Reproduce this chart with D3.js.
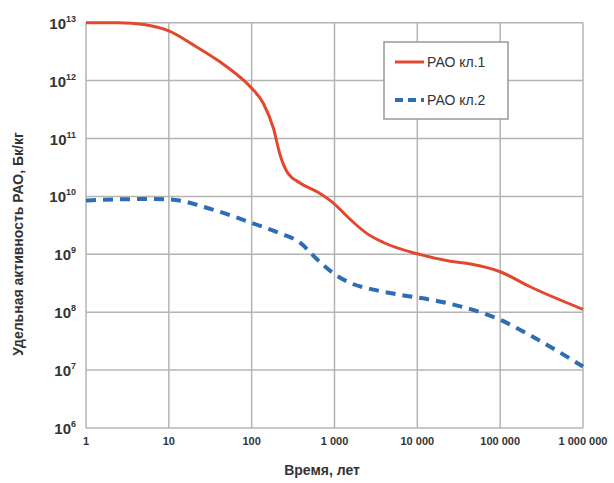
<!DOCTYPE html>
<meta charset="utf-8">
<style>
body { margin: 0; background: #fff; }
.grid line { stroke: #b4b4b4; stroke-width: 1.5px; }
.tick-label { font: bold 11px "Liberation Sans", Arial, sans-serif; fill: #333; }
.ylab { font: bold 15px "Liberation Sans", Arial, sans-serif; fill: #333; }
.title { font: bold 14px "Liberation Sans", Arial, sans-serif; fill: #333; }
.legend text { font: 14px "Liberation Sans", Arial, sans-serif; fill: #333; }
</style>
<svg width="614" height="483"></svg>
<script src="https://d3js.org/d3.v7.min.js"></script>
<script>

var svg = d3.select("svg");

// years
var xTicks = [1, 10, 100, 1000, 10000, 100000, 1000000];
var xTickLabels = ["1", "10", "100", "1 000", "10 000", "100 000", "1 000 000"];
var yExponents = [6, 7, 8, 9, 10, 11, 12, 13];

// РАО кл.1
var cls1Time = [1, 2.5, 5, 10, 20, 41, 79, 100, 138, 183, 220, 266, 384, 616, 955, 1550, 2450, 3900, 10000, 25000, 44000, 100000, 230000, 1000000];
var cls1Value = [1e13, 1e13, 9.3e12, 7.2e12, 4.1e12, 2.13e12, 1.03e12, 7.4e11, 4.07e11, 1.51e11, 5.25e10, 2.7e10, 1.7e10, 1.2e10, 7.8e9, 4e9, 2.3e9, 1.6e9, 1.02e9, 7.6e8, 6.8e8, 5e8, 2.75e8, 1.12e8];

// РАО кл.2
var cls2Time = [1, 5, 10, 34, 105, 220, 380, 620, 950, 1550, 2950, 6200, 20000, 100000, 280000, 1000000];
var cls2Value = [8.5e9, 9e9, 8.9e9, 5.9e9, 3.4e9, 2.3e9, 1.6e9, 8.1e8, 4.8e8, 3.2e8, 2.45e8, 2e8, 1.5e8, 7.4e7, 3.4e7, 1.15e7];

var x = d3.scaleLog().domain([1, 1e6]).range([86, 583]);
var y = d3.scaleLog().domain([1e6, 1e13]).range([428, 22.7]);

// grid
var grid = svg.append("g").attr("class", "grid");
grid.selectAll(".vx").data(xTicks).enter().append("line")
    .attr("x1", function(d) { return x(d); })
    .attr("x2", function(d) { return x(d); })
    .attr("y1", y(1e13)).attr("y2", y(1e6));
grid.selectAll(".hy").data(yExponents).enter().append("line")
    .attr("y1", function(d) { return y(Math.pow(10, d)); })
    .attr("y2", function(d) { return y(Math.pow(10, d)); })
    .attr("x1", x(1)).attr("x2", x(1e6));

// x tick labels
svg.append("g").selectAll("text").data(xTicks).enter().append("text")
    .attr("class", "tick-label")
    .attr("x", function(d) { return x(d); })
    .attr("y", 445)
    .attr("text-anchor", "middle")
    .text(function(d, i) { return xTickLabels[i]; });

// y tick labels with superscript
var yl = svg.append("g").selectAll("text").data(yExponents).enter().append("text")
    .attr("class", "ylab")
    .attr("x", 76)
    .attr("y", function(d) { return y(Math.pow(10, d)) + 6; })
    .attr("text-anchor", "end");
yl.append("tspan").text("10");
yl.append("tspan")
    .attr("dy", -7)
    .style("font-size", "9px")
    .text(function(d) { return d; });

// lines
var line = d3.line()
    .x(function(d) { return x(d[0]); })
    .y(function(d) { return y(d[1]); })
    .curve(d3.curveMonotoneX);

svg.append("path")
    .datum(d3.zip(cls2Time, cls2Value))
    .attr("fill", "none")
    .attr("stroke", "#2c6db3")
    .attr("stroke-width", 4)
    .attr("stroke-dasharray", "10,7")
    .attr("d", line);

svg.append("path")
    .datum(d3.zip(cls1Time, cls1Value))
    .attr("fill", "none")
    .attr("stroke", "#e2482e")
    .attr("stroke-width", 3)
    .attr("d", line);

// legend
var legend = svg.append("g").attr("class", "legend");
legend.append("rect")
    .attr("x", 384).attr("y", 42).attr("width", 124).attr("height", 77)
    .attr("fill", "#fff").attr("stroke", "#999").attr("stroke-width", 1.5);
legend.append("line")
    .attr("x1", 395).attr("x2", 424).attr("y1", 62).attr("y2", 62)
    .attr("stroke", "#e2482e").attr("stroke-width", 3);
legend.append("text").attr("x", 427).attr("y", 67).text("РАО кл.1");
legend.append("line")
    .attr("x1", 395).attr("x2", 424).attr("y1", 100).attr("y2", 100)
    .attr("stroke", "#2c6db3").attr("stroke-width", 4).attr("stroke-dasharray", "8,5");
legend.append("text").attr("x", 427).attr("y", 105).text("РАО кл.2");

// axis titles
svg.append("text")
    .attr("class", "title")
    .attr("x", 322).attr("y", 475)
    .attr("text-anchor", "middle")
    .text("Время, лет");

svg.append("text")
    .attr("class", "title")
    .attr("transform", "translate(23,244) rotate(-90)")
    .attr("text-anchor", "middle")
    .text("Удельная активность РАО, Бк/кг");

</script>
